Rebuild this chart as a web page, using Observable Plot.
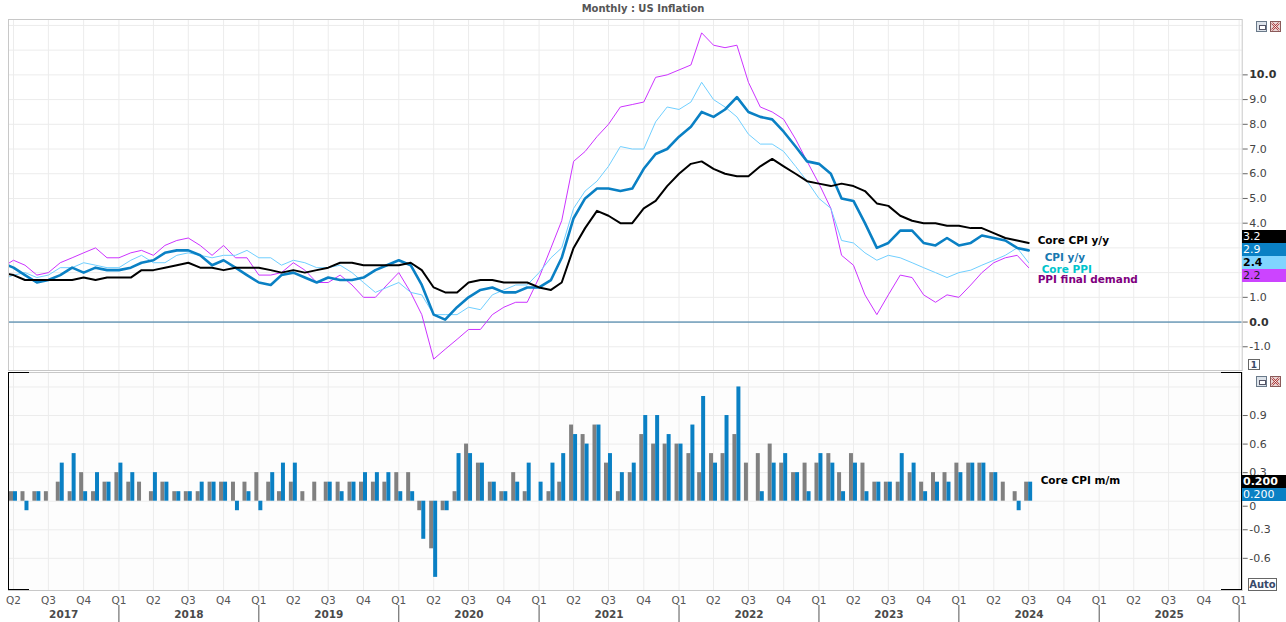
<!DOCTYPE html>
<html><head><meta charset="utf-8">
<script src="https://cdn.jsdelivr.net/npm/d3@7"></script>
<script src="https://cdn.jsdelivr.net/npm/@observablehq/plot@0.6"></script>
<style>
body{margin:0;background:#fff;font-family:"DejaVu Sans",sans-serif;}
#wrap{position:relative;width:1286px;height:622px;overflow:hidden;background:#fff;}
#wrap svg{position:absolute;left:0;}
.title{position:absolute;top:3px;left:0;width:1286px;text-align:center;font:bold 10px "DejaVu Sans",sans-serif;color:#555;}
.badge{position:absolute;left:1242px;width:44px;height:13px;font-size:11px;line-height:13px;padding-left:1px;box-sizing:border-box;white-space:nowrap;}
.ico{position:absolute;width:11px;height:11px;box-sizing:border-box;border:1px solid #6a7a8a;}
.box{position:absolute;border:1px solid #666;background:#fff;box-sizing:border-box;font:bold 10px "DejaVu Sans",sans-serif;color:#3a4a6a;text-align:center;}
.blk{position:absolute;box-sizing:border-box;}
</style></head><body><div id="wrap"></div><script>
// ---------- data ----------
const firstMonth = "2017-03-01";             // lines: Mar 2017 .. Jul 2024
const coreCPIyy = [2.0,1.9,1.7,1.7,1.7,1.7,1.7,1.8,1.7,1.8,
  1.8,1.8,2.1,2.1,2.2,2.3,2.4,2.2,2.2,2.1,2.2,2.2,
  2.2,2.1,2.0,2.1,2.0,2.1,2.2,2.4,2.4,2.3,2.3,2.3,
  2.3,2.4,2.1,1.4,1.2,1.2,1.6,1.7,1.7,1.6,1.6,1.6,
  1.4,1.3,1.6,3.0,3.8,4.5,4.3,4.0,4.0,4.6,4.9,5.5,
  6.0,6.4,6.5,6.2,6.0,5.9,5.9,6.3,6.6,6.3,6.0,5.7,
  5.6,5.5,5.6,5.5,5.3,4.8,4.7,4.3,4.1,4.0,4.0,3.9,
  3.9,3.8,3.8,3.6,3.4,3.3,3.2];
const cpiYY = [2.4,2.2,1.9,1.6,1.7,1.9,2.2,2.0,2.2,2.1,
  2.1,2.2,2.4,2.5,2.8,2.9,2.9,2.7,2.3,2.5,2.2,1.9,
  1.6,1.5,1.9,2.0,1.8,1.6,1.8,1.7,1.7,1.8,2.1,2.3,
  2.5,2.3,1.5,0.3,0.1,0.6,1.0,1.3,1.4,1.2,1.2,1.4,
  1.4,1.7,2.6,4.2,5.0,5.4,5.4,5.3,5.4,6.2,6.8,7.0,
  7.5,7.9,8.5,8.3,8.6,9.1,8.5,8.3,8.2,7.7,7.1,6.5,
  6.4,6.0,5.0,4.9,4.0,3.0,3.2,3.7,3.7,3.2,3.1,3.4,
  3.1,3.2,3.5,3.4,3.3,3.0,2.9];
const corePPI = [1.7,1.9,2.0,1.8,1.9,2.2,2.2,2.4,2.3,2.2,
  2.2,2.5,2.7,2.4,2.4,2.7,2.8,2.7,2.6,2.7,2.7,2.9,
  2.6,2.6,2.3,2.5,2.4,2.2,2.2,2.3,2.0,1.6,1.2,1.4,
  1.6,1.2,1.1,0.3,0.3,0.3,0.6,0.5,1.1,1.3,1.5,1.5,
  2.0,2.6,3.0,4.6,5.3,5.7,6.3,7.1,7.0,7.0,8.1,8.7,
  8.6,8.9,9.7,9.0,8.7,8.3,7.6,7.2,7.2,6.9,6.3,5.7,
  5.0,4.6,3.3,3.2,2.8,2.5,2.7,2.6,2.4,2.2,2.0,1.8,
  2.0,2.1,2.3,2.5,2.7,3.0,2.4];
const ppiFD = [2.2,2.5,2.3,1.9,2.0,2.4,2.6,2.8,3.0,2.6,
  2.6,2.8,2.9,2.7,3.1,3.3,3.4,3.1,2.7,3.1,2.6,2.6,
  1.9,1.9,2.0,2.4,2.1,1.6,1.6,1.9,1.5,1.0,1.0,1.5,
  2.0,1.2,0.3,-1.5,-1.1,-0.7,-0.3,-0.3,0.3,0.6,0.8,0.8,
  1.8,3.0,4.1,6.5,6.9,7.5,8.0,8.7,8.8,8.9,9.9,10.0,
  10.2,10.4,11.7,11.2,11.1,11.2,9.7,8.7,8.5,8.2,7.4,6.5,
  5.6,4.6,2.7,2.3,1.1,0.3,1.1,1.9,1.8,1.1,0.8,1.1,
  1.0,1.5,2.0,2.4,2.6,2.7,2.2];
const firstBarMonth = "2017-04-01";          // bars: Apr 2017 .. Jul 2024
const coreCPImm = [0.1,0.1,0.1,0.1,0.2,0.1,0.3,0.1,0.2,
  0.3,0.2,0.2,0.1,0.2,0.1,0.1,0.1,0.2,0.2,0.2,0.2,
  0.3,0.2,0.1,0.2,0.1,0.2,0.2,0.2,0.2,0.2,0.2,0.2,
  0.3,0.3,-0.1,-0.5,-0.1,0.1,0.6,0.4,0.2,0.1,0.3,0.1,
  0.0,0.1,0.2,0.8,0.7,0.8,0.4,0.1,0.3,0.7,0.6,0.6,
  0.6,0.5,0.3,0.5,0.5,0.7,0.4,0.5,0.6,0.4,0.3,0.4,
  0.4,0.5,0.3,0.5,0.4,0.2,0.2,0.2,0.3,0.2,0.3,0.3,
  0.4,0.4,0.4,0.3,0.2,0.1,0.2];
const cpiMM = [0.1,-0.1,0.1,0.0,0.4,0.5,0.1,0.3,0.2,
  0.4,0.3,0.0,0.3,0.2,0.1,0.1,0.2,0.2,0.2,-0.1,0.1,
  -0.1,0.3,0.4,0.4,0.0,0.0,0.2,0.1,0.2,0.3,0.3,0.3,
  0.1,0.1,-0.4,-0.8,-0.1,0.5,0.5,0.4,0.2,0.1,0.2,0.4,
  0.2,0.4,0.5,0.7,0.6,0.8,0.5,0.3,0.4,0.9,0.9,0.7,
  0.6,0.8,1.1,0.4,0.9,1.2,0.0,0.1,0.4,0.5,0.3,0.1,
  0.5,0.4,0.1,0.4,0.1,0.2,0.2,0.5,0.4,0.1,0.2,0.2,
  0.3,0.4,0.4,0.3,0.0,-0.1,0.2];
const topTicks = [-1,0,1,4,5,6,7,8,9,10];      // 2.0 and 3.0 sit under the value badges
const topBoldTicks = [0,10];
const bottomTicks = [-0.6,-0.3,0.3,0.6,0.9];
const seriesNames = {core:"Core CPI y/y", cpi:"CPI y/y", ppiCore:"Core PPI", ppi:"PPI final demand", mm:"Core CPI m/m"};
const titleText = "Monthly : US Inflation";

// ---------- derived ----------
const months = d3.utcMonth.range(new Date(firstMonth), d3.utcMonth.offset(new Date(firstMonth), coreCPIyy.length));
const barMonths = d3.utcMonth.range(new Date(firstBarMonth), d3.utcMonth.offset(new Date(firstBarMonth), coreCPImm.length));
const X_DOMAIN = [new Date("2017-03-19"), new Date("2026-01-09")];
const quarters = d3.utcMonth.every(3).range(new Date("2017-04-01"), new Date("2026-01-02"));
const yearStarts = d3.utcYear.range(new Date("2018-01-01"), new Date("2026-01-02"));
const years = d3.range(2017, 2026).map(y => {
  const a = Math.max(+new Date(Date.UTC(y,0,1)), +X_DOMAIN[0]);
  const b = Math.min(+new Date(Date.UTC(y+1,0,1)), +X_DOMAIN[1]);
  return {year: String(y), date: new Date((a+b)/2)};
});
const HALF = 10.4 * 864e5;
const lastDate = months[months.length-1];
const C = {black:"#000", blue:"#0a80c4", light:"#70cfff", mag:"#cc33ff", gray:"#808080", grid:"#ececec"};
const LBL = 10.5;

const common = {width:1286, marginLeft:8, marginRight:44.3,
  x:{type:"utc", domain:X_DOMAIN, axis:null},
  style:{fontFamily:"DejaVu Sans, sans-serif", fontSize:"11px", background:"none", color:"#333", overflow:"visible"}};

const wrap = document.getElementById("wrap");
const titleDiv = document.createElement("div"); titleDiv.className = "title"; titleDiv.textContent = titleText; wrap.appendChild(titleDiv);

// ---------- top panel ----------
const topPlot = Plot.plot({...common, height:351, marginTop:0, marginBottom:0,
  y:{domain:[-1.96,12.24], axis:null},
  marks:[
    Plot.frame({fill:"#fff"}),
    Plot.gridX(quarters, {stroke:C.grid, strokeOpacity:1}),
    Plot.gridY(d3.range(-1,13), {stroke:C.grid, strokeOpacity:1}),
    Plot.ruleY([0], {stroke:"#2a6f9c"}),
    Plot.lineY(ppiFD, {x:months, stroke:C.mag, strokeWidth:1, clip:true}),
    Plot.lineY(corePPI, {x:months, stroke:C.light, strokeWidth:1, clip:true}),
    Plot.lineY(cpiYY, {x:months, stroke:C.blue, strokeWidth:2.6, clip:true}),
    Plot.lineY(coreCPIyy, {x:months, stroke:C.black, strokeWidth:2, clip:true}),
    Plot.text([seriesNames.core], {x:lastDate, y:coreCPIyy.at(-1), text:d=>d, dx:9, dy:-2, textAnchor:"start", fontWeight:"bold", fontSize:LBL, fill:"#000"}),
    Plot.text([seriesNames.cpi], {x:lastDate, y:cpiYY.at(-1), text:d=>d, dx:16, dy:7.4, textAnchor:"start", fontWeight:"bold", fontSize:LBL, fill:"#1878b0"}),
    Plot.text([seriesNames.ppiCore], {x:lastDate, y:corePPI.at(-1), text:d=>d, dx:13, dy:6.6, textAnchor:"start", fontWeight:"bold", fontSize:LBL, fill:"#00c4cc"}),
    Plot.text([seriesNames.ppi], {x:lastDate, y:ppiFD.at(-1), text:d=>d, dx:9, dy:12.4, textAnchor:"start", fontWeight:"bold", fontSize:LBL, fill:"#800080"}),
    Plot.frame({stroke:"#c8c8c8"}),
    Plot.axisY(topTicks.filter(t => !topBoldTicks.includes(t)), {anchor:"right", tickSize:5, tickPadding:2, tickFormat:d=>d.toFixed(1), fill:"#444", stroke:"#666"}),
    Plot.axisY(topBoldTicks, {anchor:"right", tickSize:5, tickPadding:2, tickFormat:d=>d.toFixed(1), fill:"#333", stroke:"#666", fontWeight:"bold"})
  ]});
topPlot.style.top = "19px"; wrap.appendChild(topPlot);

// ---------- bottom panel ----------
const botPlot = Plot.plot({...common, height:218, marginTop:0, marginBottom:0,
  y:{domain:[-0.938,1.352], axis:null},
  marks:[
    Plot.frame({fill:"#fdfdfd"}),
    Plot.gridX(quarters, {stroke:C.grid, strokeOpacity:1}),
    Plot.gridY([-0.6,-0.3,0,0.3,0.6,0.9,1.2], {stroke:C.grid, strokeOpacity:1}),
    Plot.rect(coreCPImm, {x1:barMonths.map(d => new Date(+d - HALF)), x2:barMonths, y1:0, y2:d=>d, fill:C.gray, clip:true}),
    Plot.rect(cpiMM, {x1:barMonths, x2:barMonths.map(d => new Date(+d + HALF)), y1:0, y2:d=>d, fill:C.blue, clip:true}),
    Plot.text([seriesNames.mm], {x:lastDate, y:coreCPImm.at(-1), text:d=>d, dx:12, dy:-1.7, textAnchor:"start", fontWeight:"bold", fontSize:LBL, fill:"#000"}),
    Plot.frame({stroke:"#c8c8c8"}),
    Plot.axisY(bottomTicks, {anchor:"right", tickSize:5, tickPadding:2, tickFormat:d=> d.toFixed(1), fill:"#444", stroke:"#666"}),
    Plot.axisY([0], {anchor:"right", tickSize:5, tickPadding:2, tickFormat:()=>"0", fill:"#444", stroke:"#666", dy:5})
  ]});
botPlot.style.top = "372px"; wrap.appendChild(botPlot);

// ---------- x axis row ----------
const axPlot = Plot.plot({...common, height:32, marginTop:0, marginBottom:0,
  y:{domain:[0,32], range:[0,32], axis:null},
  marks:[
    Plot.text(quarters, {x:d=>d, y:10, text:d=>"Q"+(Math.floor(d.getUTCMonth()/3)+1), fill:"#555", fontSize:10.5}),
    Plot.text(years, {x:"date", y:24, text:"year", fill:"#4a4a4a", fontWeight:"bold", fontSize:10.5}),
    Plot.ruleX(yearStarts, {x:d=>d, y1:15, y2:32, stroke:"#555"})
  ]});
axPlot.style.top = "590px"; wrap.appendChild(axPlot);

// ---------- value badges ----------
function badge(text, y, bg, fg, bold){
  const b = document.createElement("div"); b.className = "badge";
  b.style.top = y+"px"; b.style.background = bg; b.style.color = fg;
  if (bold) b.style.fontWeight = "bold";
  b.textContent = text; wrap.appendChild(b);
}
badge(coreCPIyy.at(-1).toFixed(1), 230, "#000", "#fff");
badge(cpiYY.at(-1).toFixed(1), 243, C.blue, "#fff");
badge(corePPI.at(-1).toFixed(1), 256, "#80d4ff", "#000", true);
badge(ppiFD.at(-1).toFixed(1), 269, "#cc44ff", "#222");
badge(coreCPImm.at(-1).toFixed(3), 475, "#000", "#fff", true);
badge(cpiMM.at(-1).toFixed(3), 488, C.blue, "#fff");

// ---------- panel decorations ----------
function el(cls, css, html){ const d = document.createElement("div"); d.className = cls; d.style.cssText = css; if (html) d.innerHTML = html; wrap.appendChild(d); return d; }
function icons(y){
  el("ico", `left:1256px;top:${y}px;background:#dde3ea;`, '<div style="position:absolute;left:2px;top:3px;width:5px;height:3px;border:1px solid #556;background:#fff"></div>');
  el("ico", `left:1270px;top:${y}px;background:#e8d8d8;border-color:#8a5a5a;`, '<svg width="9" height="9" style="position:absolute;left:0;top:0"><path d="M1,1L8,8M8,1L1,8" stroke="#a33" stroke-width="2"/><path d="M1,1L8,8M8,1L1,8" stroke="#fff" stroke-width="0.8"/></svg>');
}
icons(21); icons(376);
el("box", "left:1248px;top:359px;width:12px;height:11px;line-height:10px;font-size:9px;", "1");
el("box", "left:1248px;top:578px;width:29px;height:13px;line-height:11px;", "Auto");
el("blk", "left:8px;top:372px;width:21px;height:218px;border-left:1.5px solid #000;border-top:1px solid #000;border-bottom:1px solid #000;");
el("blk", "left:1221px;top:372px;width:21px;height:218px;border-right:1.5px solid #000;border-top:1px solid #000;border-bottom:1px solid #000;");
</script></body></html>
